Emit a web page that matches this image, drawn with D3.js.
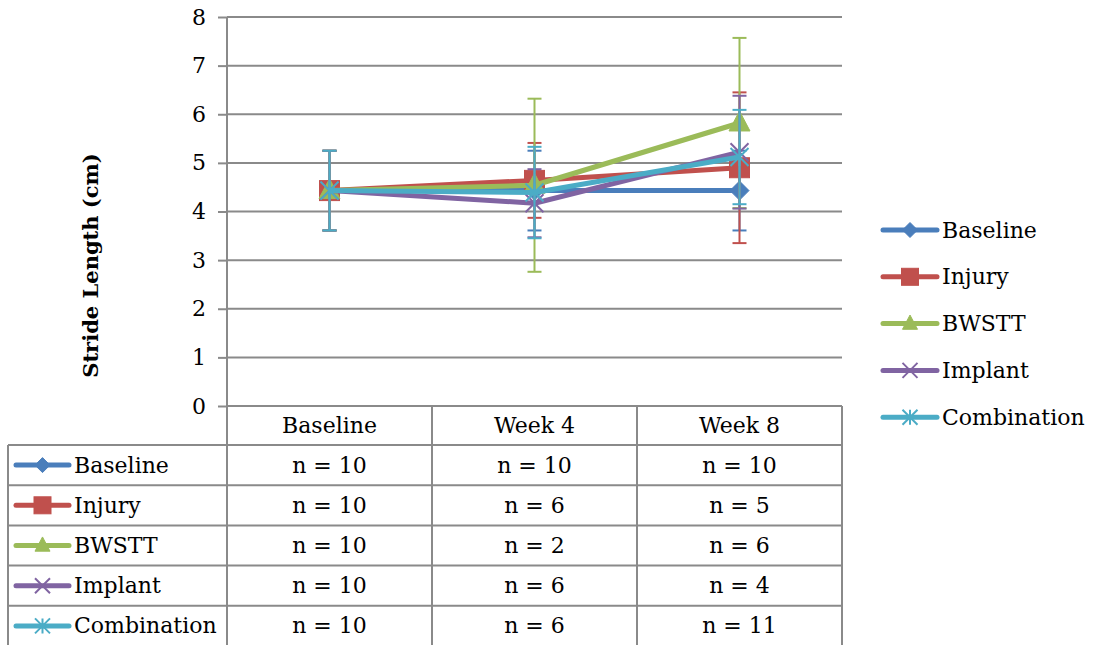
<!DOCTYPE html>
<html><head><meta charset="utf-8">
<script src="https://cdn.jsdelivr.net/npm/d3@7"></script>
<style>body{margin:0;background:#fff}svg{display:block}</style>
</head><body>
<script>
const categories = ["Baseline", "Week 4", "Week 8"];
const seriesNames = ["Baseline", "Injury", "BWSTT", "Implant", "Combination"];
const baselineVals = [4.43, 4.43, 4.43];
const injuryVals = [4.43, 4.64, 4.90];
const bwsttVals = [4.43, 4.54, 5.82];
const implantVals = [4.43, 4.17, 5.22];
const combinationVals = [4.43, 4.39, 5.12];
const baselineErr = [0.82, 0.82, 0.82];
const injuryErr = [0.82, 0.77, 1.55];
const bwsttErr = [0.82, 1.78, 1.75];
const implantErr = [0.82, 0.70, 1.16];
const combinationErr = [0.82, 0.94, 0.97];
const nBaseline = ["n = 10", "n = 10", "n = 10"];
const nInjury = ["n = 10", "n = 6", "n = 5"];
const nBwstt = ["n = 10", "n = 2", "n = 6"];
const nImplant = ["n = 10", "n = 6", "n = 4"];
const nCombination = ["n = 10", "n = 6", "n = 11"];
const yTicks = [0, 1, 2, 3, 4, 5, 6, 7, 8];
const colors = ["#4A7EBB", "#C0504D", "#9BBB59", "#8064A2", "#4BACC6"];
const markers = ["diamond", "square", "triangle", "x", "star"];

const series = seriesNames.map((name, i) => ({
  name,
  values: [baselineVals, injuryVals, bwsttVals, implantVals, combinationVals][i],
  err: [baselineErr, injuryErr, bwsttErr, implantErr, combinationErr][i],
  n: [nBaseline, nInjury, nBwstt, nImplant, nCombination][i],
  color: colors[i], marker: markers[i]
}));

const W = 1096, H = 645;
const FONT = "'DejaVu Serif', serif";
const GRID = "#8A8A8A";
const pL = 227, pR = 842, pT = 17, pB = 406;
const rowH = 40.2, tableTop = 445, tableLeft = 8;

const svg = d3.select("body").append("svg").attr("width", W).attr("height", H)
  .style("font-family", FONT);

const x = d3.scaleBand().domain(categories).range([pL, pR]);
const xc = c => x(c) + x.bandwidth() / 2;
const y = d3.scaleLinear().domain([0, 8]).range([pB, pT]);

// gridlines
svg.append("g").selectAll("line").data(yTicks.filter(t => t > 0)).join("line")
  .attr("x1", pL).attr("x2", pR).attr("y1", d => y(d)).attr("y2", d => y(d))
  .attr("stroke", GRID).attr("stroke-width", 2);

// y axis
const yAxis = svg.append("g").attr("transform", `translate(${pL},0)`)
  .call(d3.axisLeft(y).tickValues(yTicks).tickSize(9).tickPadding(12).tickFormat(d3.format("d")));
yAxis.select(".domain").remove();
yAxis.selectAll(".tick line").attr("stroke", GRID).attr("stroke-width", 2);
yAxis.selectAll(".tick text").attr("font-size", 22).attr("font-family", FONT).attr("fill", "#000");

// axis vertical line (extends through table)
svg.append("line").attr("x1", pL).attr("x2", pL).attr("y1", pT).attr("y2", H)
  .attr("stroke", GRID).attr("stroke-width", 2);
// x axis baseline
svg.append("line").attr("x1", pL).attr("x2", pR).attr("y1", pB).attr("y2", pB)
  .attr("stroke", GRID).attr("stroke-width", 2);

// table
const tbl = svg.append("g");
const boundaries = categories.map(c => x(c) + x.bandwidth());
tbl.selectAll("line.v").data(boundaries).join("line")
  .attr("x1", d => d).attr("x2", d => d).attr("y1", pB).attr("y2", H)
  .attr("stroke", GRID).attr("stroke-width", 2);
tbl.append("line").attr("x1", tableLeft).attr("x2", tableLeft).attr("y1", tableTop).attr("y2", H)
  .attr("stroke", GRID).attr("stroke-width", 2);
tbl.selectAll("line.h").data(d3.range(series.length + 1)).join("line")
  .attr("x1", tableLeft).attr("x2", pR)
  .attr("y1", i => tableTop + i * rowH).attr("y2", i => tableTop + i * rowH)
  .attr("stroke", GRID).attr("stroke-width", 2);

// category labels
tbl.selectAll("text.cat").data(categories).join("text")
  .attr("x", d => xc(d)).attr("y", (pB + tableTop) / 2)
  .attr("text-anchor", "middle").attr("dominant-baseline", "central")
  .attr("font-size", 22).text(d => d);

function drawMarker(g, type, cx, cy, color, s) {
  if (type === "diamond") {
    g.append("path").attr("d", `M${cx},${cy - s / 2}L${cx + s / 2},${cy}L${cx},${cy + s / 2}L${cx - s / 2},${cy}Z`)
      .attr("fill", color).attr("stroke", color).attr("stroke-width", 1);
  } else if (type === "square") {
    g.append("rect").attr("x", cx - s / 2).attr("y", cy - s / 2).attr("width", s).attr("height", s)
      .attr("fill", color).attr("stroke", color).attr("stroke-width", 1);
  } else if (type === "triangle") {
    const h = s * 0.95;
    g.append("path").attr("d", `M${cx},${cy - h * 0.6}L${cx + s / 2},${cy + h * 0.4}L${cx - s / 2},${cy + h * 0.4}Z`)
      .attr("fill", color).attr("stroke", color).attr("stroke-width", 1);
  } else if (type === "x") {
    const r = s / 2;
    g.append("path").attr("d", `M${cx - r},${cy - r}L${cx + r},${cy + r}M${cx - r},${cy + r}L${cx + r},${cy - r}`)
      .attr("stroke", color).attr("stroke-width", 2).attr("fill", "none");
  } else if (type === "star") {
    const r = s / 2;
    g.append("path").attr("d", `M${cx - r},${cy - r}L${cx + r},${cy + r}M${cx - r},${cy + r}L${cx + r},${cy - r}M${cx},${cy - r}L${cx},${cy + r}`)
      .attr("stroke", color).attr("stroke-width", 2).attr("fill", "none");
  }
}

function legendSymbol(g, s, x0, x1, cy, msize) {
  g.append("line").attr("x1", x0).attr("x2", x1).attr("y1", cy).attr("y2", cy)
    .attr("stroke", s.color).attr("stroke-width", 5).attr("stroke-linecap", "round");
  drawMarker(g, s.marker, (x0 + x1) / 2, cy, s.color, msize);
}

// table rows
series.forEach((s, i) => {
  const cy = tableTop + i * rowH + rowH / 2;
  const g = tbl.append("g");
  legendSymbol(g, s, 16, 69, cy, s.marker === "square" ? 17 : 15);
  g.append("text").attr("x", 74).attr("y", cy).attr("dominant-baseline", "central")
    .attr("font-size", 22).text(s.name);
  g.selectAll("text.n").data(categories).join("text")
    .attr("x", d => xc(d)).attr("y", cy).attr("text-anchor", "middle")
    .attr("dominant-baseline", "central").attr("font-size", 22)
    .text((d, j) => s.n[j]);
});

// series
const line = d3.line().x(d => xc(d.cat)).y(d => y(d.v));
series.forEach(s => {
  const g = svg.append("g");
  const pts = categories.map((c, j) => ({ cat: c, v: s.values[j], e: s.err[j] }));
  pts.forEach(p => {
    const cx = xc(p.cat);
    g.append("line").attr("x1", cx).attr("x2", cx).attr("y1", y(p.v + p.e)).attr("y2", y(p.v - p.e))
      .attr("stroke", s.color).attr("stroke-width", 2);
    [p.v + p.e, p.v - p.e].forEach(v => g.append("line")
      .attr("x1", cx - 7).attr("x2", cx + 7).attr("y1", y(v)).attr("y2", y(v))
      .attr("stroke", s.color).attr("stroke-width", 2));
  });
  g.append("path").datum(pts).attr("d", line).attr("fill", "none")
    .attr("stroke", s.color).attr("stroke-width", 5).attr("stroke-linejoin", "round");
  const msize = { diamond: 19, square: 20, triangle: 21, x: 18, star: 18 }[s.marker];
  pts.forEach(p => drawMarker(g, s.marker, xc(p.cat), y(p.v), s.color, msize));
});

// right legend
series.forEach((s, i) => {
  const cy = 230 + i * 46.8;
  const g = svg.append("g");
  legendSymbol(g, s, 883, 937, cy, s.marker === "square" ? 17 : 15);
  g.append("text").attr("x", 942).attr("y", cy).attr("dominant-baseline", "central")
    .attr("font-size", 22).text(s.name);
});

// y axis title
svg.append("text").attr("transform", `translate(90,${(pT + pB) / 2 + 54}) rotate(-90)`)
  .attr("text-anchor", "middle").attr("dominant-baseline", "central")
  .attr("font-size", 21).attr("font-weight", "bold").text("Stride Length (cm)");
</script>
</body></html>
